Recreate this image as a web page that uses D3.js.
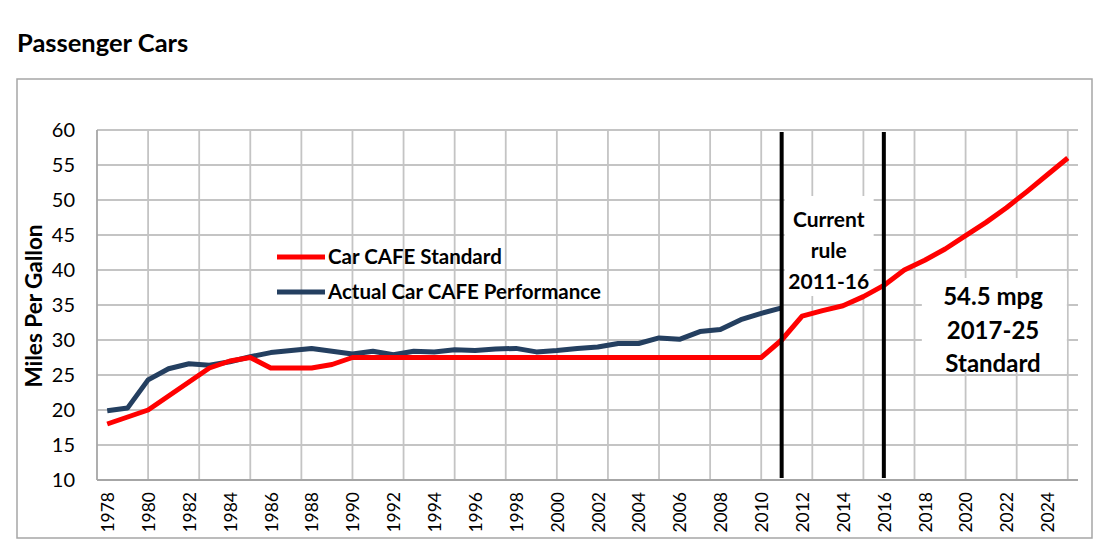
<!DOCTYPE html>
<html>
<head>
<meta charset="utf-8">
<script src="https://cdn.jsdelivr.net/npm/d3@7"></script>
<style>
  body { margin: 0; background: #fff; }
  text { font-family: Lato, "Noto Sans", sans-serif; fill: #000; }
</style>
</head>
<body>
<script>
// Data
const years = d3.range(1978, 2026);
const standard = [
  18.0, 19.0, 20.0, 22.0, 24.0, 26.0, 27.0, 27.5, 26.0, 26.0,
  26.0, 26.5, 27.5, 27.5, 27.5, 27.5, 27.5, 27.5, 27.5, 27.5,
  27.5, 27.5, 27.5, 27.5, 27.5, 27.5, 27.5, 27.5, 27.5, 27.5,
  27.5, 27.5, 27.5, 30.0, 33.4, 34.2, 34.9, 36.2, 37.8, 40.0,
  41.4, 43.0, 44.9, 46.8, 48.9, 51.2, 53.6, 56.0
];
const actualYears = d3.range(1978, 2012);
const actual = [
  19.9, 20.3, 24.3, 25.9, 26.6, 26.4, 26.9, 27.6, 28.2, 28.5,
  28.8, 28.4, 28.0, 28.4, 27.9, 28.4, 28.3, 28.6, 28.5, 28.7,
  28.8, 28.3, 28.5, 28.8, 29.0, 29.5, 29.5, 30.3, 30.1, 31.2,
  31.5, 32.9, 33.8, 34.6
];
const yTicks = [10, 15, 20, 25, 30, 35, 40, 45, 50, 55, 60];
const xTicks = d3.range(1978, 2025, 2);
const xGrid = d3.range(1977.5, 2025.1, 2.5);
const ruleYears = [2011, 2016];

const W = 1111, H = 553;
const margin = { top: 130, right: 33, bottom: 73, left: 97 };
const width = W - margin.left - margin.right;
const height = H - margin.top - margin.bottom;

const svg = d3.select("body")
  .append("svg")
  .attr("width", W)
  .attr("height", H);

// Title and outer frame
svg.append("text")
  .attr("x", 17)
  .attr("y", 52)
  .attr("font-size", 25.5)
  .attr("font-weight", "bold")
  .text("Passenger Cars");

svg.append("rect")
  .attr("x", 17)
  .attr("y", 79)
  .attr("width", 1075)
  .attr("height", 459)
  .attr("fill", "none")
  .attr("stroke", "#a6a6a6")
  .attr("stroke-width", 1.5);

const g = svg.append("g")
  .attr("transform", "translate(" + margin.left + "," + margin.top + ")");

// Scales
const x = d3.scaleLinear().domain([1977.5, 2025.5]).range([0, width]);
const y = d3.scaleLinear().domain([10, 60]).range([height, 0]);

// Gridlines
g.append("g")
  .selectAll("line.h")
  .data(yTicks)
  .enter().append("line")
  .attr("x1", 0)
  .attr("x2", width)
  .attr("y1", d => y(d))
  .attr("y2", d => y(d))
  .attr("stroke", "#c4c4c4")
  .attr("stroke-width", 1.8);

g.append("g")
  .selectAll("line.v")
  .data(xGrid)
  .enter().append("line")
  .attr("x1", d => x(d))
  .attr("x2", d => x(d))
  .attr("y1", 0)
  .attr("y2", height)
  .attr("stroke", d => d === 1977.5 ? "#a6a6a6" : "#c4c4c4")
  .attr("stroke-width", 1.8);

// Bottom axis line
g.append("line")
  .attr("x1", 0)
  .attr("x2", width)
  .attr("y1", height)
  .attr("y2", height)
  .attr("stroke", "#a6a6a6")
  .attr("stroke-width", 1.8);

// White boxes behind the annotations
g.append("rect")
  .attr("x", x(2011) + 3)
  .attr("y", 66)
  .attr("width", 89)
  .attr("height", 100)
  .attr("fill", "#fff");

g.append("rect")
  .attr("x", x(2016) + 38)
  .attr("y", 148)
  .attr("width", 145)
  .attr("height", 94)
  .attr("fill", "#fff");

// Axes labels
g.append("g")
  .call(d3.axisLeft(y).tickValues(yTicks).tickSize(0).tickPadding(22))
  .call(a => a.select(".domain").remove())
  .selectAll("text")
  .attr("font-size", 20)
  .attr("font-family", "Lato, sans-serif");

g.append("g")
  .attr("transform", "translate(0," + height + ")")
  .call(d3.axisBottom(x).tickValues(xTicks).tickFormat(d3.format("d")).tickSize(0))
  .call(a => a.select(".domain").remove())
  .selectAll("text")
  .attr("font-size", 17.5)
  .attr("font-family", "Lato, sans-serif")
  .attr("transform", "rotate(-90)")
  .attr("text-anchor", "end")
  .attr("x", -12)
  .attr("y", 0)
  .attr("dy", "0.36em");

svg.append("text")
  .attr("transform", "translate(42," + (margin.top + height / 2 + 1) + ") rotate(-90)")
  .attr("text-anchor", "middle")
  .attr("font-size", 22.5)
  .attr("font-weight", "bold")
  .text("Miles Per Gallon");

// Lines
const line = d3.line()
  .x(d => x(d[0]))
  .y(d => y(d[1]));

g.append("path")
  .datum(actualYears.map((yr, i) => [yr, actual[i]]))
  .attr("fill", "none")
  .attr("stroke", "#243f60")
  .attr("stroke-width", 5)
  .attr("stroke-linejoin", "round")
  .attr("d", line);

g.append("path")
  .datum(years.map((yr, i) => [yr, standard[i]]))
  .attr("fill", "none")
  .attr("stroke", "#ff0000")
  .attr("stroke-width", 5)
  .attr("stroke-linejoin", "round")
  .attr("d", line);

// Rule boundary lines
g.selectAll("line.rule")
  .data(ruleYears)
  .enter().append("line")
  .attr("x1", d => x(d))
  .attr("x2", d => x(d))
  .attr("y1", 2)
  .attr("y2", height - 2)
  .attr("stroke", "#000")
  .attr("stroke-width", 4);

// Annotations
const note1 = ["Current", "rule", "2011-16"];
g.append("g")
  .selectAll("text")
  .data(note1)
  .enter().append("text")
  .attr("x", (x(2011) + x(2016)) / 2 - 4)
  .attr("y", (d, i) => 97 + i * 31)
  .attr("text-anchor", "middle")
  .attr("font-size", 21)
  .attr("font-weight", "bold")
  .text(d => d);

const note2 = ["54.5 mpg", "2017-25", "Standard"];
g.append("g")
  .selectAll("text")
  .data(note2)
  .enter().append("text")
  .attr("x", 896)
  .attr("y", (d, i) => 175 + i * 33.5)
  .attr("text-anchor", "middle")
  .attr("font-size", 24)
  .attr("font-weight", "bold")
  .text(d => d);

// Legend
const legend = [
  { name: "Car CAFE Standard", color: "#ff0000" },
  { name: "Actual Car CAFE Performance", color: "#243f60" }
];
const lg = svg.append("g").attr("transform", "translate(277,257)");
lg.selectAll("line")
  .data(legend)
  .enter().append("line")
  .attr("x1", 0)
  .attr("x2", 48)
  .attr("y1", (d, i) => i * 35)
  .attr("y2", (d, i) => i * 35)
  .attr("stroke", d => d.color)
  .attr("stroke-width", 5);
lg.selectAll("text")
  .data(legend)
  .enter().append("text")
  .attr("x", 51)
  .attr("y", (d, i) => i * 35 + 7)
  .attr("font-size", 20.5)
  .attr("font-weight", "bold")
  .text(d => d.name);
</script>
</body>
</html>
